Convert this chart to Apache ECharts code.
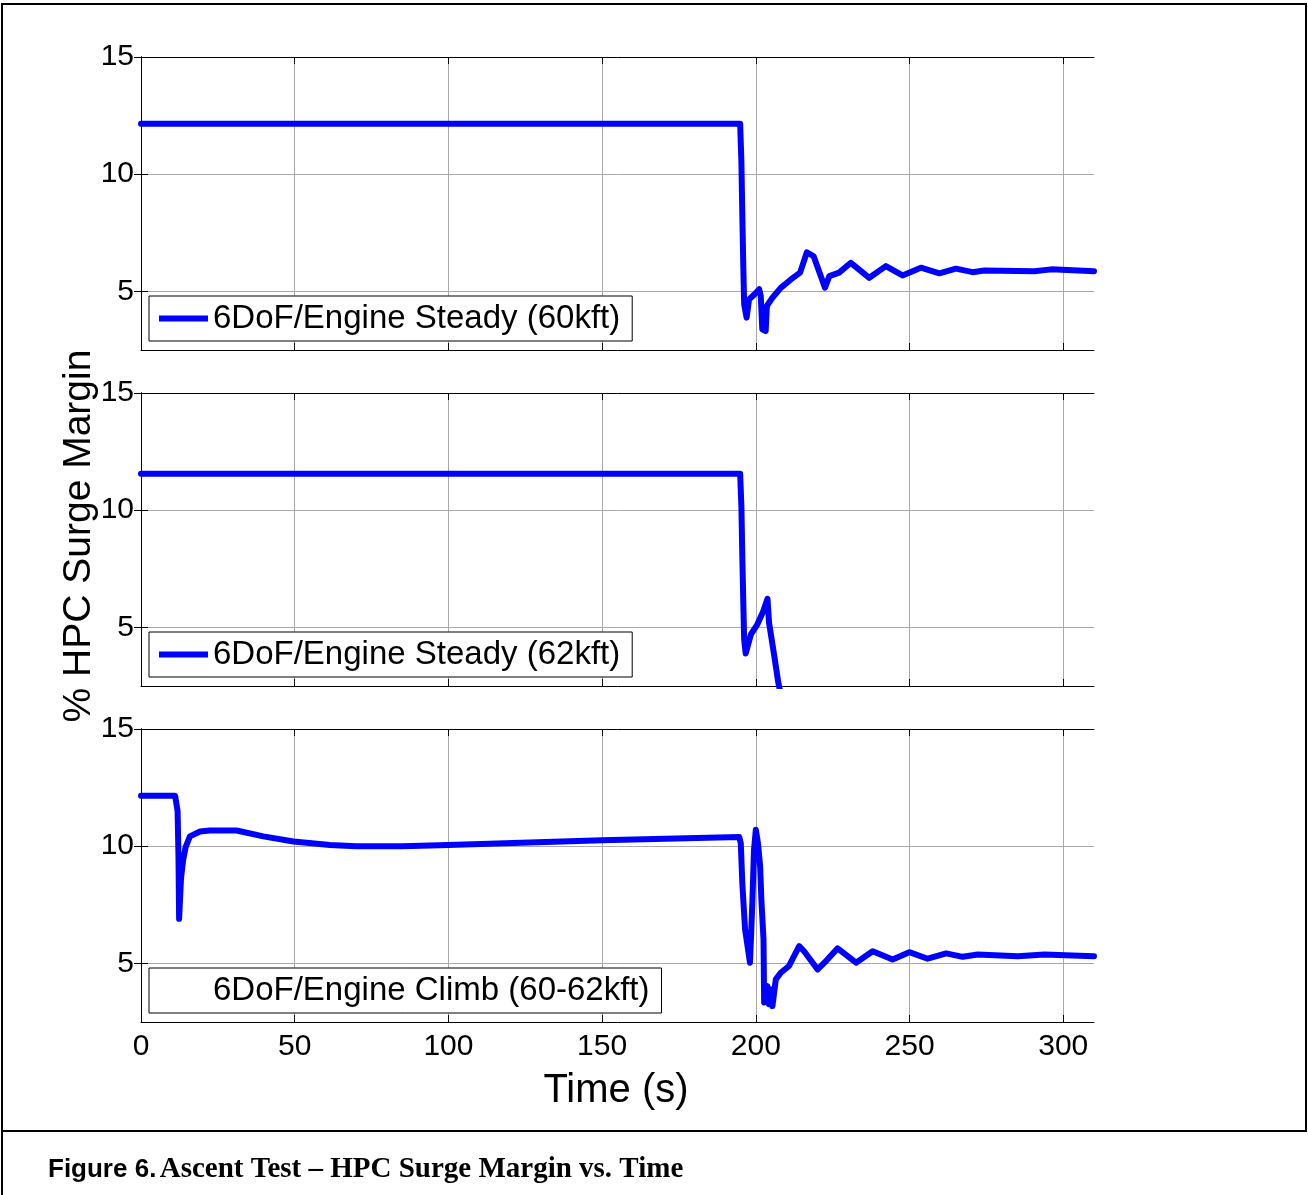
<!DOCTYPE html>
<html lang="en">
<head>
<meta charset="UTF-8">
<title>HPC Surge Margin vs. Time</title>
<script src="https://cdn.jsdelivr.net/npm/echarts@6/dist/echarts.min.js"></script>
<style>
    html, body { margin: 0; padding: 0; background: #fff; }
    #container { width: 1308px; height: 1195px; }
</style>
</head>
<body>
<div id="container"></div>
<script>
// ---- data ----
var xTicks = [0, 50, 100, 150, 200, 250, 300];
var yTicks = [5, 10, 15];

var names = ['6DoF/Engine Steady (60kft)', '6DoF/Engine Steady (62kft)', '6DoF/Engine Climb (60-62kft)'];

var t60 = [0, 194.9, 195.3, 195.6, 195.9, 196.2, 197.0, 197.8, 199.5, 201.1, 201.6, 202.1, 203.2, 203.6, 205.4, 208.1, 211.4, 214.4, 216.6, 218.8, 222.5, 223.9, 227.1, 230.9, 236.9, 242.3, 247.7, 253.7, 259.7, 265.1, 270.5, 274.3, 290.6, 296.1, 310];
var sm60 = [12.15, 12.15, 10.55, 8.28, 6.22, 4.45, 3.88, 4.66, 4.87, 5.09, 4.8, 3.38, 3.31, 4.38, 4.73, 5.15, 5.51, 5.8, 6.67, 6.5, 5.16, 5.65, 5.8, 6.22, 5.58, 6.08, 5.68, 6.01, 5.77, 5.97, 5.82, 5.89, 5.86, 5.94, 5.86];

var t62 = [0, 194.9, 195.3, 195.6, 195.9, 196.2, 196.7, 198.4, 200.5, 202.2, 203.8, 204.3, 206.0, 207.3, 208.5];
var sm62 = [11.55, 11.55, 10.16, 8.03, 6.19, 4.49, 3.89, 4.70, 5.13, 5.62, 6.22, 5.2, 3.78, 2.65, 1.9];

var tClimb = [0, 11.1, 11.9, 12.2, 12.4, 13.0, 13.7, 14.5, 15.9, 19.2, 22.4, 31.1, 39.8, 49.6, 61.5, 70, 85, 100, 150, 194.6,
    195.1, 195.6, 196.5, 198.1, 198.9, 199.4, 200.0, 200.7, 201.4, 201.8, 202.5, 202.7, 203.8, 204.3, 205.1, 205.4, 206.5, 208.1, 210.8,
    214.1, 215.7, 220.1, 222.3, 226.6, 232.6, 238.0, 244.5, 249.9, 255.9, 261.9, 267.3, 272.2, 285.2, 293.9, 310];
var smClimb = [12.15, 12.15, 11.5, 9.5, 6.9, 8.6, 9.4, 9.95, 10.42, 10.63, 10.67, 10.67, 10.42, 10.2, 10.05, 10.0, 10.0, 10.05, 10.25, 10.39,
    10.13, 8.43, 6.45, 5.03, 7.72, 9.85, 10.7, 10.13, 9.14, 7.72, 6.02, 3.33, 4.03, 3.26, 3.89, 3.18, 4.32, 4.6, 4.89,
    5.74, 5.52, 4.74, 5.03, 5.64, 5.03, 5.52, 5.17, 5.48, 5.2, 5.43, 5.28, 5.38, 5.31, 5.38, 5.31];

function pairs(t, v) {
    return t.map(function (x, i) { return [x, v[i]]; });
}
var seriesData = [pairs(t60, sm60), pairs(t62, sm62), pairs(tClimb, smClimb)];

var dom = document.getElementById('container');
var myChart = echarts.init(dom, null, { renderer: 'canvas' });

var gridTops = [57, 393, 729];
var grids = [], xAxes = [], yAxes = [], series = [], legends = [];
var font = 'Arial, "Liberation Sans", sans-serif';

gridTops.forEach(function (top, i) {
    grids.push({ left: 141, top: top, width: 953, height: 293 });

    // bottom + top x axes (box with inward ticks)
    xAxes.push({
        type: 'value', gridIndex: i, position: 'bottom', min: 0, max: 310,
        axisLine: { show: true, lineStyle: { color: '#000', width: 1 } },
        axisTick: { show: true, inside: true, length: 7, customValues: xTicks, lineStyle: { color: '#000' } },
        axisLabel: { show: i === 2, customValues: xTicks, fontSize: 30, fontFamily: font, color: '#000', margin: 10 },
        splitLine: { show: true, lineStyle: { color: '#aaaaaa', width: 1 } }
    });
    xAxes.push({
        type: 'value', gridIndex: i, position: 'top', min: 0, max: 310,
        axisLine: { show: true, lineStyle: { color: '#000', width: 1 } },
        axisTick: { show: true, inside: true, length: 7, customValues: xTicks, lineStyle: { color: '#000' } },
        axisLabel: { show: false },
        splitLine: { show: false }
    });

    yAxes.push({
        type: 'value', gridIndex: i, position: 'left', min: 2.5, max: 15,
        axisLine: { show: true, lineStyle: { color: '#000', width: 1 } },
        axisTick: { show: true, inside: true, length: 7, customValues: yTicks, lineStyle: { color: '#000' } },
        axisLabel: { show: true, customValues: yTicks, fontSize: 30, fontFamily: font, color: '#000', margin: 7 },
        splitLine: { show: true, lineStyle: { color: '#aaaaaa', width: 1 } }
    });
    yAxes.push({
        type: 'value', gridIndex: i, position: 'right', min: 2.5, max: 15,
        axisLine: { show: true, lineStyle: { color: '#000', width: 1 } },
        axisTick: { show: true, inside: true, length: 7, customValues: yTicks, lineStyle: { color: '#000' } },
        axisLabel: { show: false },
        splitLine: { show: false }
    });

    series.push({
        name: names[i],
        type: 'line',
        xAxisIndex: i * 2,
        yAxisIndex: i * 2,
        data: seriesData[i],
        symbol: 'none',
        clip: true,
        lineStyle: { color: '#0000ff', width: 6, cap: 'round', join: 'round' },
        itemStyle: { color: '#0000ff' }
    });

    var lg = {
        left: 149,
        top: top + 239,
        orient: 'horizontal',
        selectedMode: false,
        padding: [6, 12, 6, 10],
        icon: 'rect',
        itemWidth: 49,
        itemHeight: 6,
        backgroundColor: '#fff',
        borderColor: '#000',
        borderWidth: 1,
        textStyle: { fontSize: 33, fontFamily: font, color: '#000' },
        data: [names[i]]
    };
    if (i === 2) {
        // climb legend shows no line sample in the figure
        lg.itemStyle = { opacity: 0 };
    }
    legends.push(lg);
});

option = {
    animation: false,
    backgroundColor: '#fff',
    grid: grids,
    xAxis: xAxes,
    yAxis: yAxes,
    legend: legends,
    series: series,
    graphic: [
        // figure frame
        { type: 'rect', shape: { x: 2, y: 4, width: 1304, height: 1127 }, style: { fill: null, stroke: '#000', lineWidth: 2 }, silent: true },
        { type: 'line', shape: { x1: 2, y1: 1131, x2: 2, y2: 1195 }, style: { stroke: '#000', lineWidth: 2 }, silent: true },
        // axis titles
        {
            type: 'text', x: 79, y: 536, rotation: Math.PI / 2,
            style: { text: '% HPC Surge Margin', font: '39px ' + font, fill: '#000', textAlign: 'center', textVerticalAlign: 'middle' }
        },
        {
            type: 'text', x: 616, y: 1091,
            style: { text: 'Time (s)', font: '40px ' + font, fill: '#000', textAlign: 'center', textVerticalAlign: 'middle' }
        },
        // caption
        {
            type: 'text', left: 48, top: 1155,
            style: {
                text: '{a|Figure 6.} {b|Ascent Test – HPC Surge Margin vs. Time}',
                rich: {
                    a: { font: 'bold 26px ' + font, fill: '#000' },
                    b: { font: 'bold 29px "Liberation Serif", "Times New Roman", serif', fill: '#000' }
                }
            }
        }
    ]
};

if (option && typeof option === 'object') {
    myChart.setOption(option, true);
}
</script>
</body>
</html>
